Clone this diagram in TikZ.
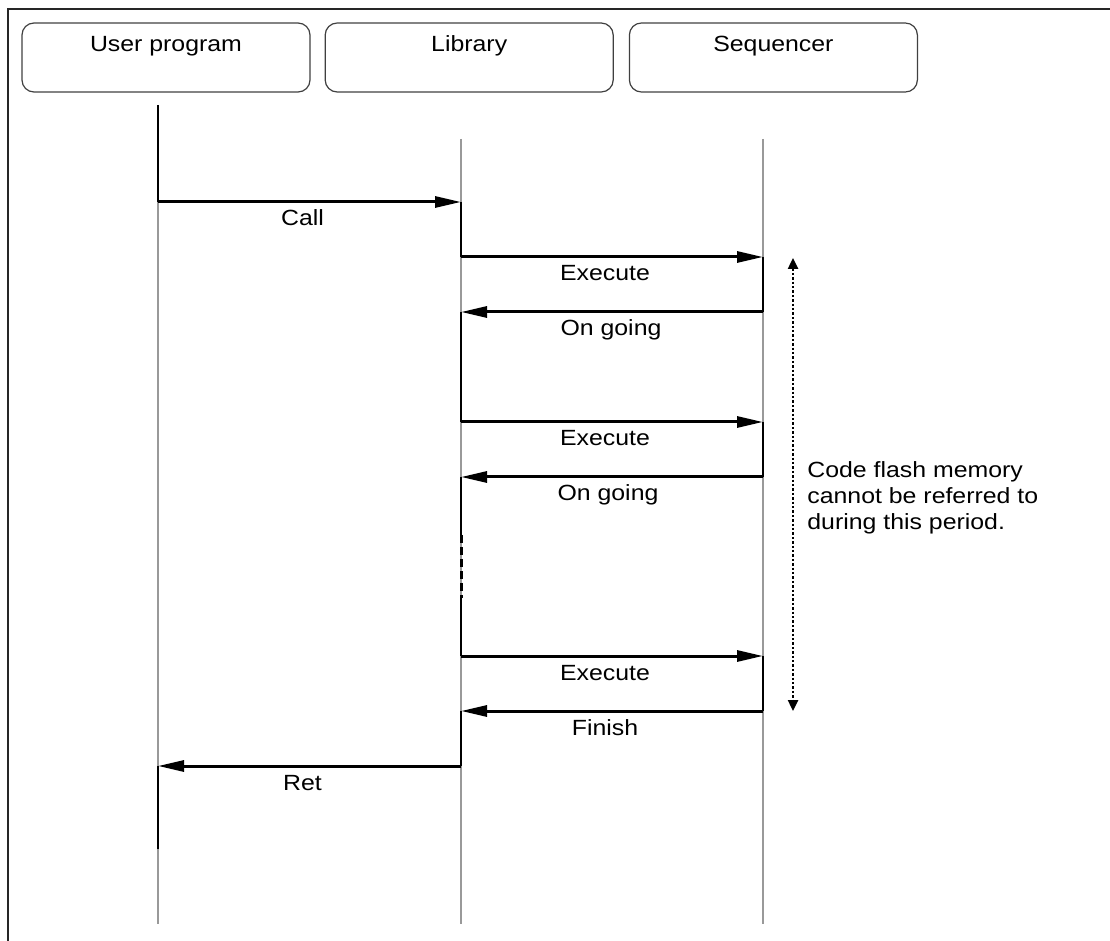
\documentclass[tikz,border=0pt]{standalone}
\usepackage{fontspec}
\setmainfont[FakeStretch=1.13]{Liberation Sans}
\usepackage{tikz}
\usetikzlibrary{arrows.meta}
\usetikzlibrary{positioning}
\tikzstyle{msg} = [line width=1.5pt, -{Triangle[length=13pt,width=5.5pt]}]
\tikzstyle{act} = [line width=1.1pt]
\tikzstyle{life} = [line width=0.8pt, black!40]
\tikzstyle{head} = [draw=black!75, line width=0.6pt, rounded corners=6pt, minimum width=144pt, minimum height=34.5pt, inner sep=0]
\tikzstyle{lbl} = [anchor=base, yshift=-12pt, xshift=-3.5pt, inner sep=0]
\tikzstyle{period} = [line width=1.2pt, densely dotted, {Triangle[length=5.5pt,width=5pt]}-{Triangle[length=5.5pt,width=5pt]}]

\begin{document}
\begin{tikzpicture}[x=0.5pt, y=-0.5pt, font=\fontsize{11pt}{13pt}\selectfont]
            \useasboundingbox (0,0) rectangle (1110,941);
            \draw [line width=1pt, black!85] (1110,9) -- (8,9) -- (8,941);

            % headers
            \node [head, label={[anchor=base, yshift=-14.5pt, inner sep=0]north:User program}] (user) at (166,57.5) {};
            \node [head, right=7pt of user, label={[anchor=base, yshift=-14.5pt, inner sep=0]north:Library}] (lib) {};
            \node [head, right=7.5pt of lib, label={[anchor=base, yshift=-14.5pt, inner sep=0]north:Sequencer}] (seq) {};

            % lifelines
            \coordinate (ut) at (158,139);
            \coordinate (ub) at (158,924);
            \coordinate (lt) at (461,139);
            \coordinate (lb) at (461,924);
            \coordinate (st) at (763,139);
            \coordinate (sb) at (763,924);
            \draw [life] (ut) -- (ub);
            \draw [life] (lt) -- (lb);
            \draw [life] (st) -- (sb);

            % message points
            \coordinate (u0) at (158,105);
            \coordinate (u1) at (158,202);
            \coordinate (l1) at (461,202);
            \coordinate (l2) at (461,257);
            \coordinate (s2) at (763,257);
            \coordinate (s3) at (763,312);
            \coordinate (l3) at (461,312);
            \coordinate (l4) at (461,422);
            \coordinate (s4) at (763,422);
            \coordinate (s5) at (763,477);
            \coordinate (l5) at (461,477);
            \coordinate (lda) at (461,535);
            \coordinate (ldb) at (461,598);
            \coordinate (l6) at (461,656);
            \coordinate (s6) at (763,656);
            \coordinate (s7) at (763,711);
            \coordinate (l7) at (461,711);
            \coordinate (l8) at (461,766);
            \coordinate (u8) at (158,766);
            \coordinate (u9) at (158,849);

            % activations
            \draw [act] (u0) -- (u1);
            \draw [act] (l1) -- (l2);
            \draw [act] (s2) -- (s3);
            \draw [act] (l3) -- (l4);
            \draw [act] (s4) -- (s5);
            \draw [act] (l5) -- (lda);
            \draw [act, line width=1.5pt, dash pattern=on 4pt off 2pt] (lda) -- (ldb);
            \draw [act] (ldb) -- (l6);
            \draw [act] (s6) -- (s7);
            \draw [act] (l7) -- (l8);
            \draw [act] (u8) -- (u9);

            % messages
            \draw [msg] (u1) -- node[lbl]{Call} (l1);
            \draw [msg] (l2) -- node[lbl]{Execute} (s2);
            \draw [msg] (s3) -- node[lbl, xshift=3pt]{On going} (l3);
            \draw [msg] (l4) -- node[lbl]{Execute} (s4);
            \draw [msg] (s5) -- node[lbl, xshift=1.5pt]{On going} (l5);
            \draw [msg] (l6) -- node[lbl]{Execute} (s6);
            \draw [msg] (s7) -- node[lbl]{Finish} (l7);
            \draw [msg] (l8) -- node[lbl]{Ret} (u8);

            % period note
            \coordinate (p1) at (793,258);
            \coordinate (p2) at (793,711);
            \draw [period] (p1) -- (p2);
            \node [anchor=north west, align=left, inner sep=0] (note) at (807,461) {Code flash memory\\cannot be referred to\\during this period.};
        \end{tikzpicture}
\end{document}
